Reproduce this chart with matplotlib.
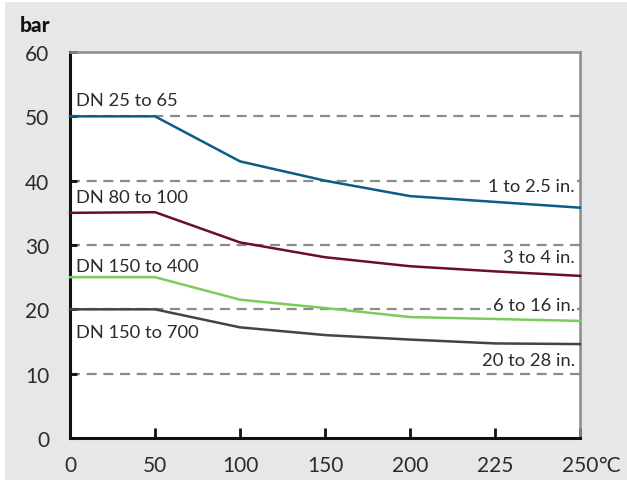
import matplotlib
matplotlib.use("Agg")
import matplotlib.pyplot as plt
from matplotlib.patches import Rectangle

plt.rcParams['font.family'] = ['Lato', 'DejaVu Sans']

# temperatures (evenly spaced categories on the chart)
temps = ['0', '50', '100', '150', '200', '225', '250']
xpos = list(range(len(temps)))

dn25 = [50.0, 50.0, 43.0, 40.0, 37.6, 36.7, 35.8]
dn80 = [35.0, 35.1, 30.4, 28.1, 26.7, 25.9, 25.2]
dn150_400 = [25.0, 25.0, 21.5, 20.2, 18.8, 18.5, 18.2]
dn150_700 = [20.0, 20.0, 17.2, 16.0, 15.3, 14.7, 14.6]

series = [dn25, dn80, dn150_400, dn150_700]
colors = ['#0b5c88', '#6a0c33', '#7dcc5b', '#4b413e']
left_labels = ['DN 25 to 65', 'DN 80 to 100', 'DN 150 to 400', 'DN 150 to 700']
left_y = [52.5, 37.4, 26.8, 16.4]
right_labels = ['1 to 2.5 in.', '3 to 4 in.', '6 to 16 in.', '20 to 28 in.']
right_y = [39.2, 28.1, 20.6, 12.2]
yticks = [0, 10, 20, 30, 40, 50, 60]

fig = plt.figure(figsize=(6.27, 4.81), dpi=100, facecolor='white')
fig.patches.append(Rectangle((5 / 627, 0), 1, 1 - 3 / 481, transform=fig.transFigure,
                             facecolor='#e6e7e9', edgecolor='none', zorder=-10))
ax = fig.add_axes([70 / 627, 42 / 481, 510 / 627, 386 / 481])
ax.set_facecolor('white')

for y in yticks[1:-1]:
    ax.axhline(y, color='#8c8c8c', lw=1.6, ls=(0, (4.5, 3)), zorder=1)

for vals, c in zip(series, colors):
    ax.plot(xpos, vals, color=c, lw=1.8, zorder=3, clip_on=False)

for lab, y in zip(left_labels, left_y):
    ax.text(0.07, y, lab, fontsize=13.2, color='#2b2b2b', ha='left', va='center', zorder=4)
for lab, y in zip(right_labels, right_y):
    ax.text(5.94, y, lab, fontsize=13.2, color='#2b2b2b', ha='right', va='center', zorder=4,
            bbox=dict(facecolor='white', edgecolor='none', pad=1.5))

ax.set_xlim(0, 6)
ax.set_ylim(0, 60)
ax.set_xticks(xpos)
ax.set_xticklabels(temps)
ax.set_yticks(yticks)

ax.tick_params(axis='both', direction='in', colors='#111111', labelcolor='#2b2b2b',
               labelsize=15, width=2)
ax.tick_params(axis='y', length=5, pad=15)
ax.tick_params(axis='x', length=7, pad=12)

for s in ['left', 'bottom']:
    ax.spines[s].set_color('#111111')
    ax.spines[s].set_linewidth(2.2)
for s in ['top', 'right']:
    ax.spines[s].set_color('#8a8a8a')
    ax.spines[s].set_linewidth(1.8)

# degree unit right after the last tick label
fig.canvas.draw()
last = ax.get_xticklabels()[-1]
bb = last.get_window_extent(fig.canvas.get_renderer())
fig.text(bb.x1 / fig.bbox.width, bb.y1 / fig.bbox.height, '°C', fontsize=15,
         color='#2b2b2b', ha='left', va='top')

fig.text(20 / 627, 1 - 25 / 481, 'bar', fontsize=15, fontweight='black', color='#111111',
         ha='left', va='center')

fig.savefig('out.png', dpi=100, facecolor=fig.get_facecolor())
